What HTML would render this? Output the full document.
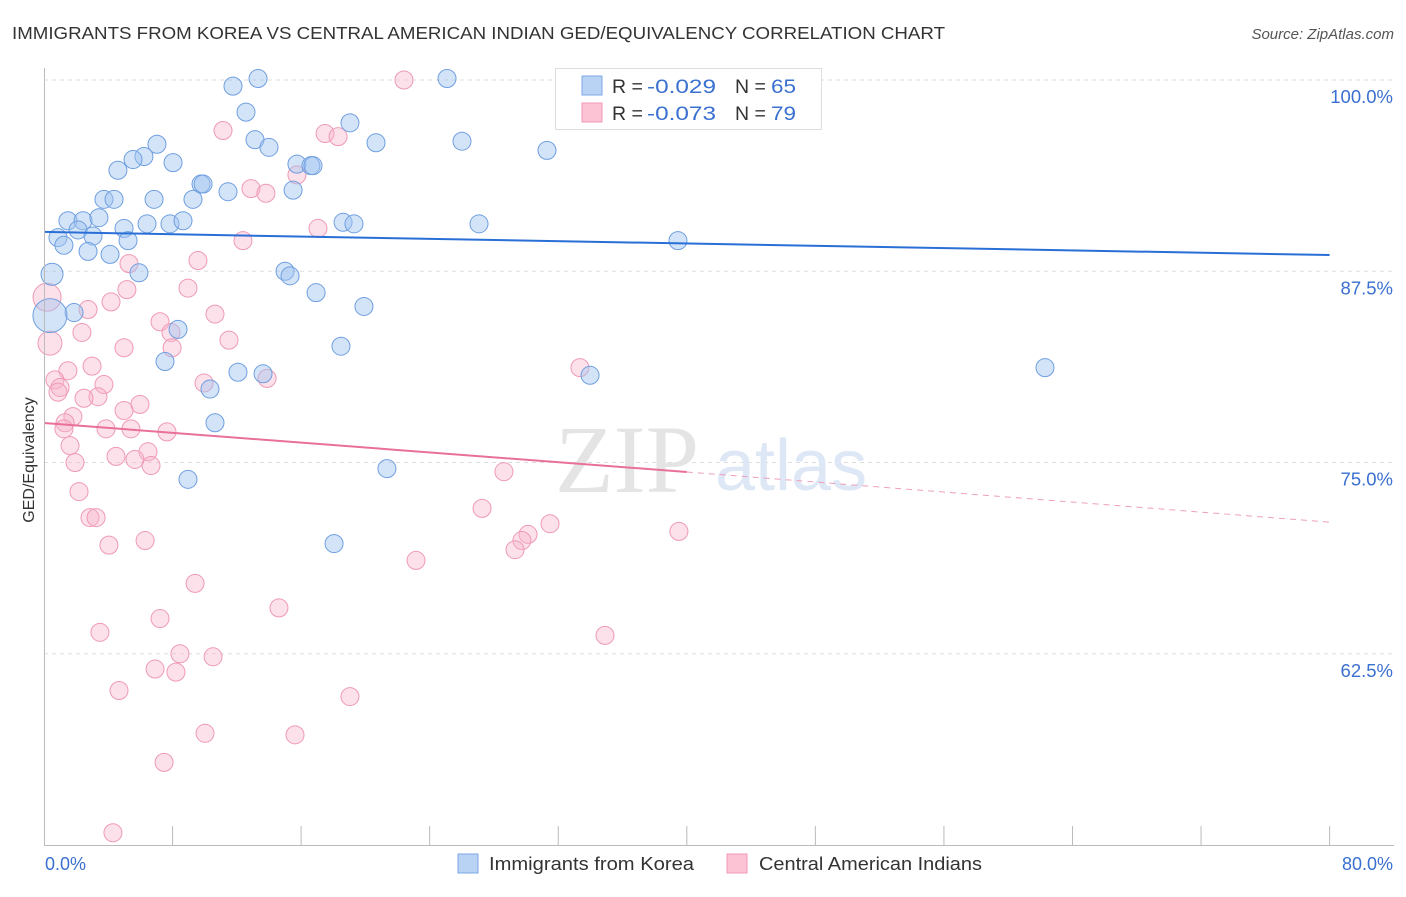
<!DOCTYPE html>
<html><head><meta charset="utf-8"><style>
body{margin:0;background:#fff;font-family:"Liberation Sans",sans-serif}
</style></head><body>
<svg width="1406" height="892" xmlns="http://www.w3.org/2000/svg" font-family="Liberation Sans, sans-serif">
<text x="12" y="39" font-size="17.5" fill="#333" textLength="933" lengthAdjust="spacingAndGlyphs">IMMIGRANTS FROM KOREA VS CENTRAL AMERICAN INDIAN GED/EQUIVALENCY CORRELATION CHART</text>
<text x="1394" y="39" font-size="15" fill="#555" font-style="italic" text-anchor="end">Source: ZipAtlas.com</text>
<g id="grid"></g>
<text x="555" y="492" font-size="96" fill="#e4e4e4" font-family="Liberation Serif, serif">ZIP</text>
<text x="715" y="490" font-size="72" fill="#dde7f5">atlas</text>
<g id="pts"></g>
<g id="trend"></g>
<g id="axes"></g>
<text x="34" y="460" font-size="16" fill="#333" text-anchor="middle" transform="rotate(-90 34 460)">GED/Equivalency</text>
<text x="45" y="870" font-size="18" fill="#3a70d0">0.0%</text>
<text x="1393" y="870" font-size="18" fill="#3a70d0" text-anchor="end">80.0%</text>
<g>
<rect x="555.5" y="68.5" width="266" height="61" fill="#fff" stroke="#ddd"/>
<rect x="582" y="76" width="20" height="19" fill="#b9d3f5" stroke="#7aa7e6"/>
<rect x="582" y="103" width="20" height="19" fill="#fbc3d4" stroke="#ef9ab5"/>
<text y="93" font-size="19.5" fill="#333"><tspan x="612">R =</tspan><tspan x="647" fill="#3a70d0" textLength="69" lengthAdjust="spacingAndGlyphs">-0.029</tspan><tspan x="735">N =</tspan><tspan x="771" fill="#3a70d0" textLength="25" lengthAdjust="spacingAndGlyphs">65</tspan></text>
<text y="120" font-size="19.5" fill="#333"><tspan x="612">R =</tspan><tspan x="647" fill="#3a70d0" textLength="69" lengthAdjust="spacingAndGlyphs">-0.073</tspan><tspan x="735">N =</tspan><tspan x="771" fill="#3a70d0" textLength="25" lengthAdjust="spacingAndGlyphs">79</tspan></text>
</g>
<g>
<rect x="458" y="854" width="20" height="19" fill="#b9d3f5" stroke="#7aa7e6"/>
<text x="489" y="870" font-size="18.5" fill="#333" textLength="205" lengthAdjust="spacingAndGlyphs">Immigrants from Korea</text>
<rect x="727" y="854" width="20" height="19" fill="#fbc3d4" stroke="#ef9ab5"/>
<text x="759" y="870" font-size="18.5" fill="#333" textLength="223" lengthAdjust="spacingAndGlyphs">Central American Indians</text>
</g>
</svg>
<script>
const yTicks=[100,87.5,75,62.5];
const yTickLabels=["100.0%","87.5%","75.0%","62.5%"];
const blueX=[11.76,13.32,25.08,12.57,19.04,13.13,14.0,20.66,26.01,31.3,7.03,6.22,8.03,5.54,4.6,15.74,16.61,16.74,9.77,9.9,11.45,15.5,3.73,4.36,6.85,9.27,1.49,2.43,3.42,4.98,6.41,7.84,8.65,18.61,19.29,27.07,2.12,3.05,0.87,1.24,2.74,5.23,4.11,39.45,0.5,5.91,15.0,15.31,16.93,19.91,1.87,0.37,8.34,18.48,7.53,12.07,13.63,10.33,33.98,62.29,10.64,21.34,8.96,18.05,39.3];
const blueY=[99.6,100.1,100.1,97.9,97.2,96.1,95.6,95.9,96.0,95.4,95.8,95.0,94.6,94.8,94.1,94.5,94.4,94.4,93.2,93.2,92.7,92.8,92.2,92.2,92.2,92.2,90.8,90.8,91.0,90.3,90.6,90.6,90.8,90.7,90.6,90.6,90.2,89.8,89.7,89.2,88.8,89.5,88.6,89.5,87.3,87.4,87.5,87.2,86.1,85.2,84.8,84.6,83.7,82.6,81.6,80.9,80.8,79.8,80.7,81.2,77.6,74.6,73.9,69.7,100.1];
const blueR=[9,9,9,9,9,9,9,9,9,9,9,9,9,9,9,9,9,9,9,9,9,9,9,9,9,9,9,9,9,9,9,9,9,9,9,9,9,9,9,9,9,9,9,9,11,9,9,9,9,9,9,17,9,9,9,9,9,9,9,9,9,9,9,9,9];
const pinkX=[22.4,11.14,17.49,18.3,15.74,12.88,13.81,17.05,12.38,5.29,9.58,5.16,8.96,4.17,2.74,10.64,7.22,2.36,7.9,11.51,7.97,4.98,0.37,33.35,2.99,1.49,13.88,0.68,9.96,3.73,1.0,0.87,3.36,2.49,5.97,4.98,1.8,1.31,3.86,5.41,7.65,1.24,1.62,6.47,4.48,5.66,6.66,1.93,28.62,2.18,27.26,2.86,3.24,31.49,30.12,29.74,39.51,29.31,6.29,4.04,23.15,9.4,14.62,7.22,3.48,34.91,8.46,10.52,6.91,8.21,4.67,19.04,10.02,15.62,7.47,4.29,0.19];
const pinkY=[100,96.7,96.5,96.3,93.8,92.9,92.6,90.3,89.5,88.0,88.2,86.3,86.4,85.5,85.0,84.7,84.2,83.5,83.5,83.0,82.5,82.5,82.8,81.2,81.3,81.0,80.5,80.4,80.2,80.1,79.9,79.6,79.3,79.2,78.8,78.4,78.0,77.6,77.2,77.2,77.0,77.2,76.1,75.7,75.4,75.2,74.8,75.0,74.4,73.1,72.0,71.4,71.4,71.0,70.3,69.9,70.5,69.3,69.9,69.6,68.6,67.1,65.5,64.8,63.9,63.7,62.5,62.3,61.5,61.3,60.1,59.7,57.3,57.2,55.4,50.8,85.8];
const blueTrend=[[0,90.07],[80,88.56]];
const pinkTrendSolid=[[0,77.58],[40,74.38]];
const pinkTrendDash=[[40,74.38],[80,71.1]];
const NS="http://www.w3.org/2000/svg";
function sx(v){return 44+v*16.07;}
function sy(v){return 80+(100-v)*15.3;}
function mk(t,a,p){const e=document.createElementNS(NS,t);for(const k in a)e.setAttribute(k,a[k]);p.appendChild(e);return e;}
const grid=document.getElementById('grid');
yTicks.forEach((t,i)=>{
 const l=mk('line',{x1:44,x2:1394,y1:sy(t),y2:sy(t),stroke:'#ddd','stroke-dasharray':'4,4'},grid);
 
 
 const tx=mk('text',{x:1393,y:sy(t)+23,'font-size':18.5,fill:'#3a70d0','text-anchor':'end'},grid);
 tx.textContent=yTickLabels[i];
 
 
});
const axes=document.getElementById('axes');
const ax=mk('line',{x1:44.5,x2:44.5,y1:68,y2:845,stroke:'#bbb'},axes);


const bx=mk('line',{x1:44,x2:1394,y1:845.5,y2:845.5,stroke:'#bbb'},axes);


for(let i=1;i<=10;i++){const t=mk('line',{x1:sx(i*8),x2:sx(i*8),y1:826,y2:845,stroke:'#bbb'},axes);
 
 }
const pts=document.getElementById('pts');
pinkX.forEach((x,i)=>{const c=mk('circle',{cx:sx(x),cy:sy(pinkY[i]),r:(i==76?14:(i==22?12:9)),fill:'rgba(248,180,202,0.4)',stroke:'#ef9ab5','stroke-width':1},pts);
 
 });
blueX.forEach((x,i)=>{const c=mk('circle',{cx:sx(x),cy:sy(blueY[i]),r:blueR[i],fill:'rgba(160,195,240,0.45)',stroke:'#6f9fe0','stroke-width':1},pts);
 
 });
const tr=document.getElementById('trend');
function ln(a,st,w,d,n){const e=mk('line',{x1:sx(a[0][0]),y1:sy(a[0][1]),x2:sx(a[1][0]),y2:sy(a[1][1]),stroke:st,'stroke-width':w},tr);if(d)e.setAttribute('stroke-dasharray',d);
 
 }
ln(blueTrend,'#2a6fd6',2,null,'korea-trend-line');
ln(pinkTrendSolid,'#e8709a',2,null,'cai-trend-line');
ln(pinkTrendDash,'#eea0ba',1,'6,5','cai-trend-extension');
</script>
</body></html>
